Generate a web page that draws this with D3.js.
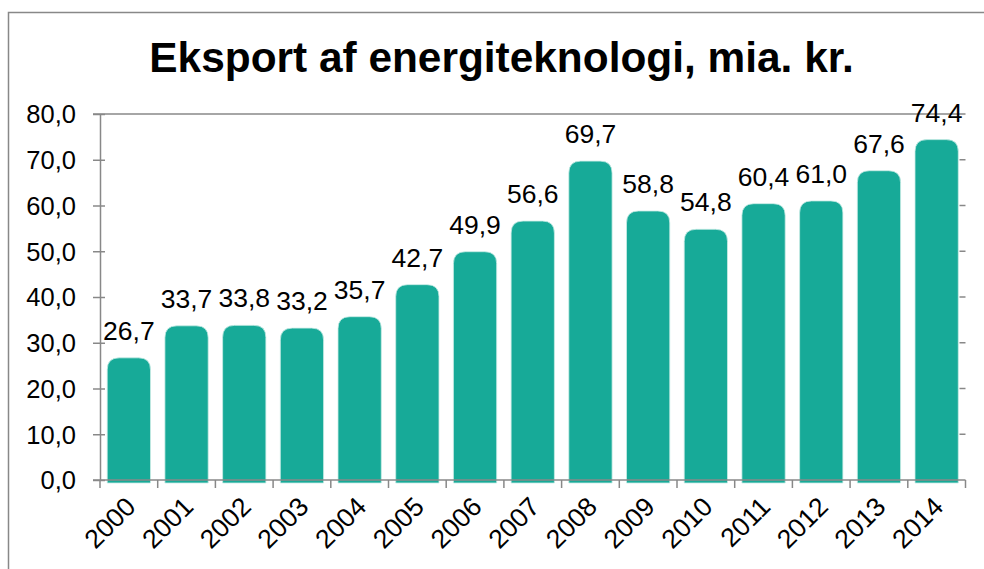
<!DOCTYPE html>
<html>
<head>
<meta charset="utf-8">
<script src="https://cdn.jsdelivr.net/npm/d3@7"></script>
<style>
  html, body { margin: 0; padding: 0; background: #fff; }
  svg { display: block; font-family: "Liberation Sans", Arial, sans-serif; }
</style>
</head>
<body>
<svg id="chart" width="984" height="569"></svg>
<script>
const title = "Eksport af energiteknologi, mia. kr.";
const years = ["2000","2001","2002","2003","2004","2005","2006","2007","2008","2009","2010","2011","2012","2013","2014"];
const values = [26.7, 33.7, 33.8, 33.2, 35.7, 42.7, 49.9, 56.6, 69.7, 58.8, 54.8, 60.4, 61.0, 67.6, 74.4];
const yTicks = [0, 10, 20, 30, 40, 50, 60, 70, 80];

const barColor = "#17aa98";
const axisColor = "#888888";

const svg = d3.select("#chart");
const plotLeft = 100, plotRight = 965.5, plotTop = 114, plotBottom = 480;

const locale = d3.formatLocale({decimal: ",", thousands: ".", grouping: [3], currency: ["", " kr."]});
const fmt = locale.format(".1f");

const x = d3.scaleBand().domain(years).range([plotLeft, plotRight]).paddingInner(0.25).paddingOuter(0.125);
const y = d3.scaleLinear().domain([0, 80]).range([plotBottom, plotTop]);
const step = x.step();

// outer border
svg.append("rect").attr("x", 8.5).attr("y", 12.5).attr("width", 1000).attr("height", 600)
  .attr("fill", "none").attr("stroke", axisColor).attr("stroke-width", 1.5);

// title
svg.append("text").attr("x", 501.5).attr("y", 72).attr("text-anchor", "middle")
  .attr("font-size", 42.4).attr("font-weight", "bold").attr("fill", "#000").text(title);

// plot area top line
svg.append("line").attr("x1", 93).attr("x2", plotRight).attr("y1", y(80)).attr("y2", y(80))
  .attr("stroke", axisColor).attr("stroke-width", 1.5);

// bars with rounded tops
const r = 12;
function barPath(d, i) {
  const x0 = x(years[i]), w = x.bandwidth();
  const yt = y(d), yb = plotBottom + 3;
  const rr = Math.min(r, (yb - yt) / 2);
  return `M${x0},${yb} L${x0},${yt + rr} Q${x0},${yt} ${x0 + rr},${yt} L${x0 + w - rr},${yt} Q${x0 + w},${yt} ${x0 + w},${yt + rr} L${x0 + w},${yb} Z`;
}
svg.append("g").selectAll("path").data(values).join("path")
  .attr("d", barPath).attr("fill", barColor)
  .attr("stroke", "#c9ece6").attr("stroke-width", 0.8);

// y axis (left)
const yAxis = d3.axisLeft(y).tickValues(yTicks).tickFormat(fmt).tickSize(0).tickPadding(0);
const gy = svg.append("g").attr("transform", `translate(${plotLeft},0)`).call(yAxis);
gy.select(".domain").attr("stroke", axisColor).attr("stroke-width", 1.5);
gy.selectAll(".tick line").remove();
gy.selectAll(".tick").append("line").attr("x1", -7).attr("x2", 5).attr("stroke", axisColor).attr("stroke-width", 1.5);
gy.selectAll(".tick text").attr("x", -24).attr("dy", "0.35em").attr("font-size", 25.5)
  .attr("font-family", "Liberation Sans, Arial, sans-serif").attr("fill", "#000");

// right ticks
svg.append("g").selectAll("line").data(yTicks.filter(t => t > 0 && t < 80)).join("line")
  .attr("x1", plotRight - 6).attr("x2", plotRight).attr("y1", d => y(d)).attr("y2", d => y(d))
  .attr("stroke", axisColor).attr("stroke-width", 1.5);

// x axis line
svg.append("line").attr("x1", 93).attr("x2", plotRight).attr("y1", plotBottom).attr("y2", plotBottom)
  .attr("stroke", axisColor).attr("stroke-width", 1.5);
// x boundary ticks
svg.append("g").selectAll("line").data(d3.range(years.length + 1)).join("line")
  .attr("x1", i => plotLeft + i * step).attr("x2", i => plotLeft + i * step)
  .attr("y1", plotBottom).attr("y2", plotBottom + 8)
  .attr("stroke", axisColor).attr("stroke-width", 1.5);

// x labels
svg.append("g").selectAll("text").data(years).join("text")
  .attr("transform", d => `translate(${x(d) + x.bandwidth() / 2 - 5},${plotBottom + 15}) rotate(-45)`)
  .attr("text-anchor", "end").attr("dy", "0.71em")
  .attr("font-size", 26.5).attr("fill", "#000").text(d => d);

// value labels
svg.append("g").selectAll("text").data(values).join("text")
  .attr("x", (d, i) => x(years[i]) + x.bandwidth() / 2)
  .attr("y", d => y(d) - 18)
  .attr("text-anchor", "middle").attr("font-size", 26.5).attr("fill", "#000")
  .text(d => fmt(d));
</script>
</body>
</html>
